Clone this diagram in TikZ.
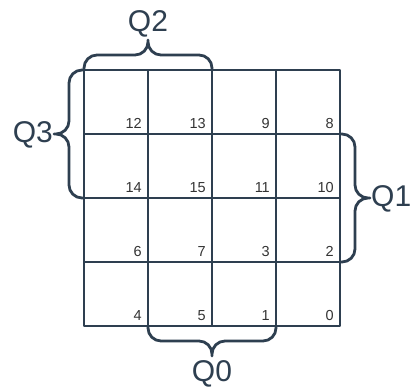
\documentclass[tikz,border=0pt]{standalone}
\usepackage{fontspec}
\setmainfont{Liberation Sans}
\definecolor{ink}{HTML}{2E3F50}
\definecolor{numink}{HTML}{333333}
\begin{document}
\begin{tikzpicture}[x=1pt,y=1pt,
  kline/.style={draw=ink,line width=2.8pt,line join=round},
  cell/.style={kline,rectangle,minimum size=64pt,inner sep=0pt,outer sep=0pt},
  num/.style={text=numink,inner sep=0pt,anchor=base east,font=\fontsize{14.5}{16}\selectfont},
  qlabel/.style={text=ink,inner sep=0pt,font=\fontsize{30}{34}\selectfont},
  kbrace/.pic={
    \draw[kline] (0,0) -- (0,2) arc[start angle=180,end angle=90,radius=13]
      -- (51,15) arc[start angle=-90,end angle=0,radius=13] -- (64,30)
      -- (64,28) arc[start angle=180,end angle=270,radius=13]
      -- (115,15) arc[start angle=90,end angle=0,radius=13] -- (128,0);
  }]
\useasboundingbox (0,0) rectangle (417,390);

% Karnaugh map cells, row by row from the top, with their minterm numbers
\foreach \r/\a/\b/\c/\d in {0/12/13/9/8, 1/14/15/11/10, 2/6/7/3/2, 3/4/5/1/0}{
  \foreach \col/\m in {0/\a,1/\b,2/\c,3/\d}{
    \node[cell] (c\r\col) at (116+64*\col, 288-64*\r) {};
    \node[num] (n\r\col) at ([shift={(-6,5)}]c\r\col.south east) {\m};
  }
}

% Variable braces and their labels
\pic at (c00.north west) {kbrace};
\node[qlabel,anchor=base] (q2) at (148,358) {Q2};

\pic[rotate=90] at (c10.south west) {kbrace};
\node[qlabel,anchor=base east] (q3) at (53,247) {Q3};

\pic[rotate=-90] at (c13.north east) {kbrace};
\node[qlabel,anchor=base west] (q1) at (371,183) {Q1};

\pic[rotate=180] at (c32.south east) {kbrace};
\node[qlabel,anchor=base] (q0) at (212,8) {Q0};
\end{tikzpicture}
\end{document}
